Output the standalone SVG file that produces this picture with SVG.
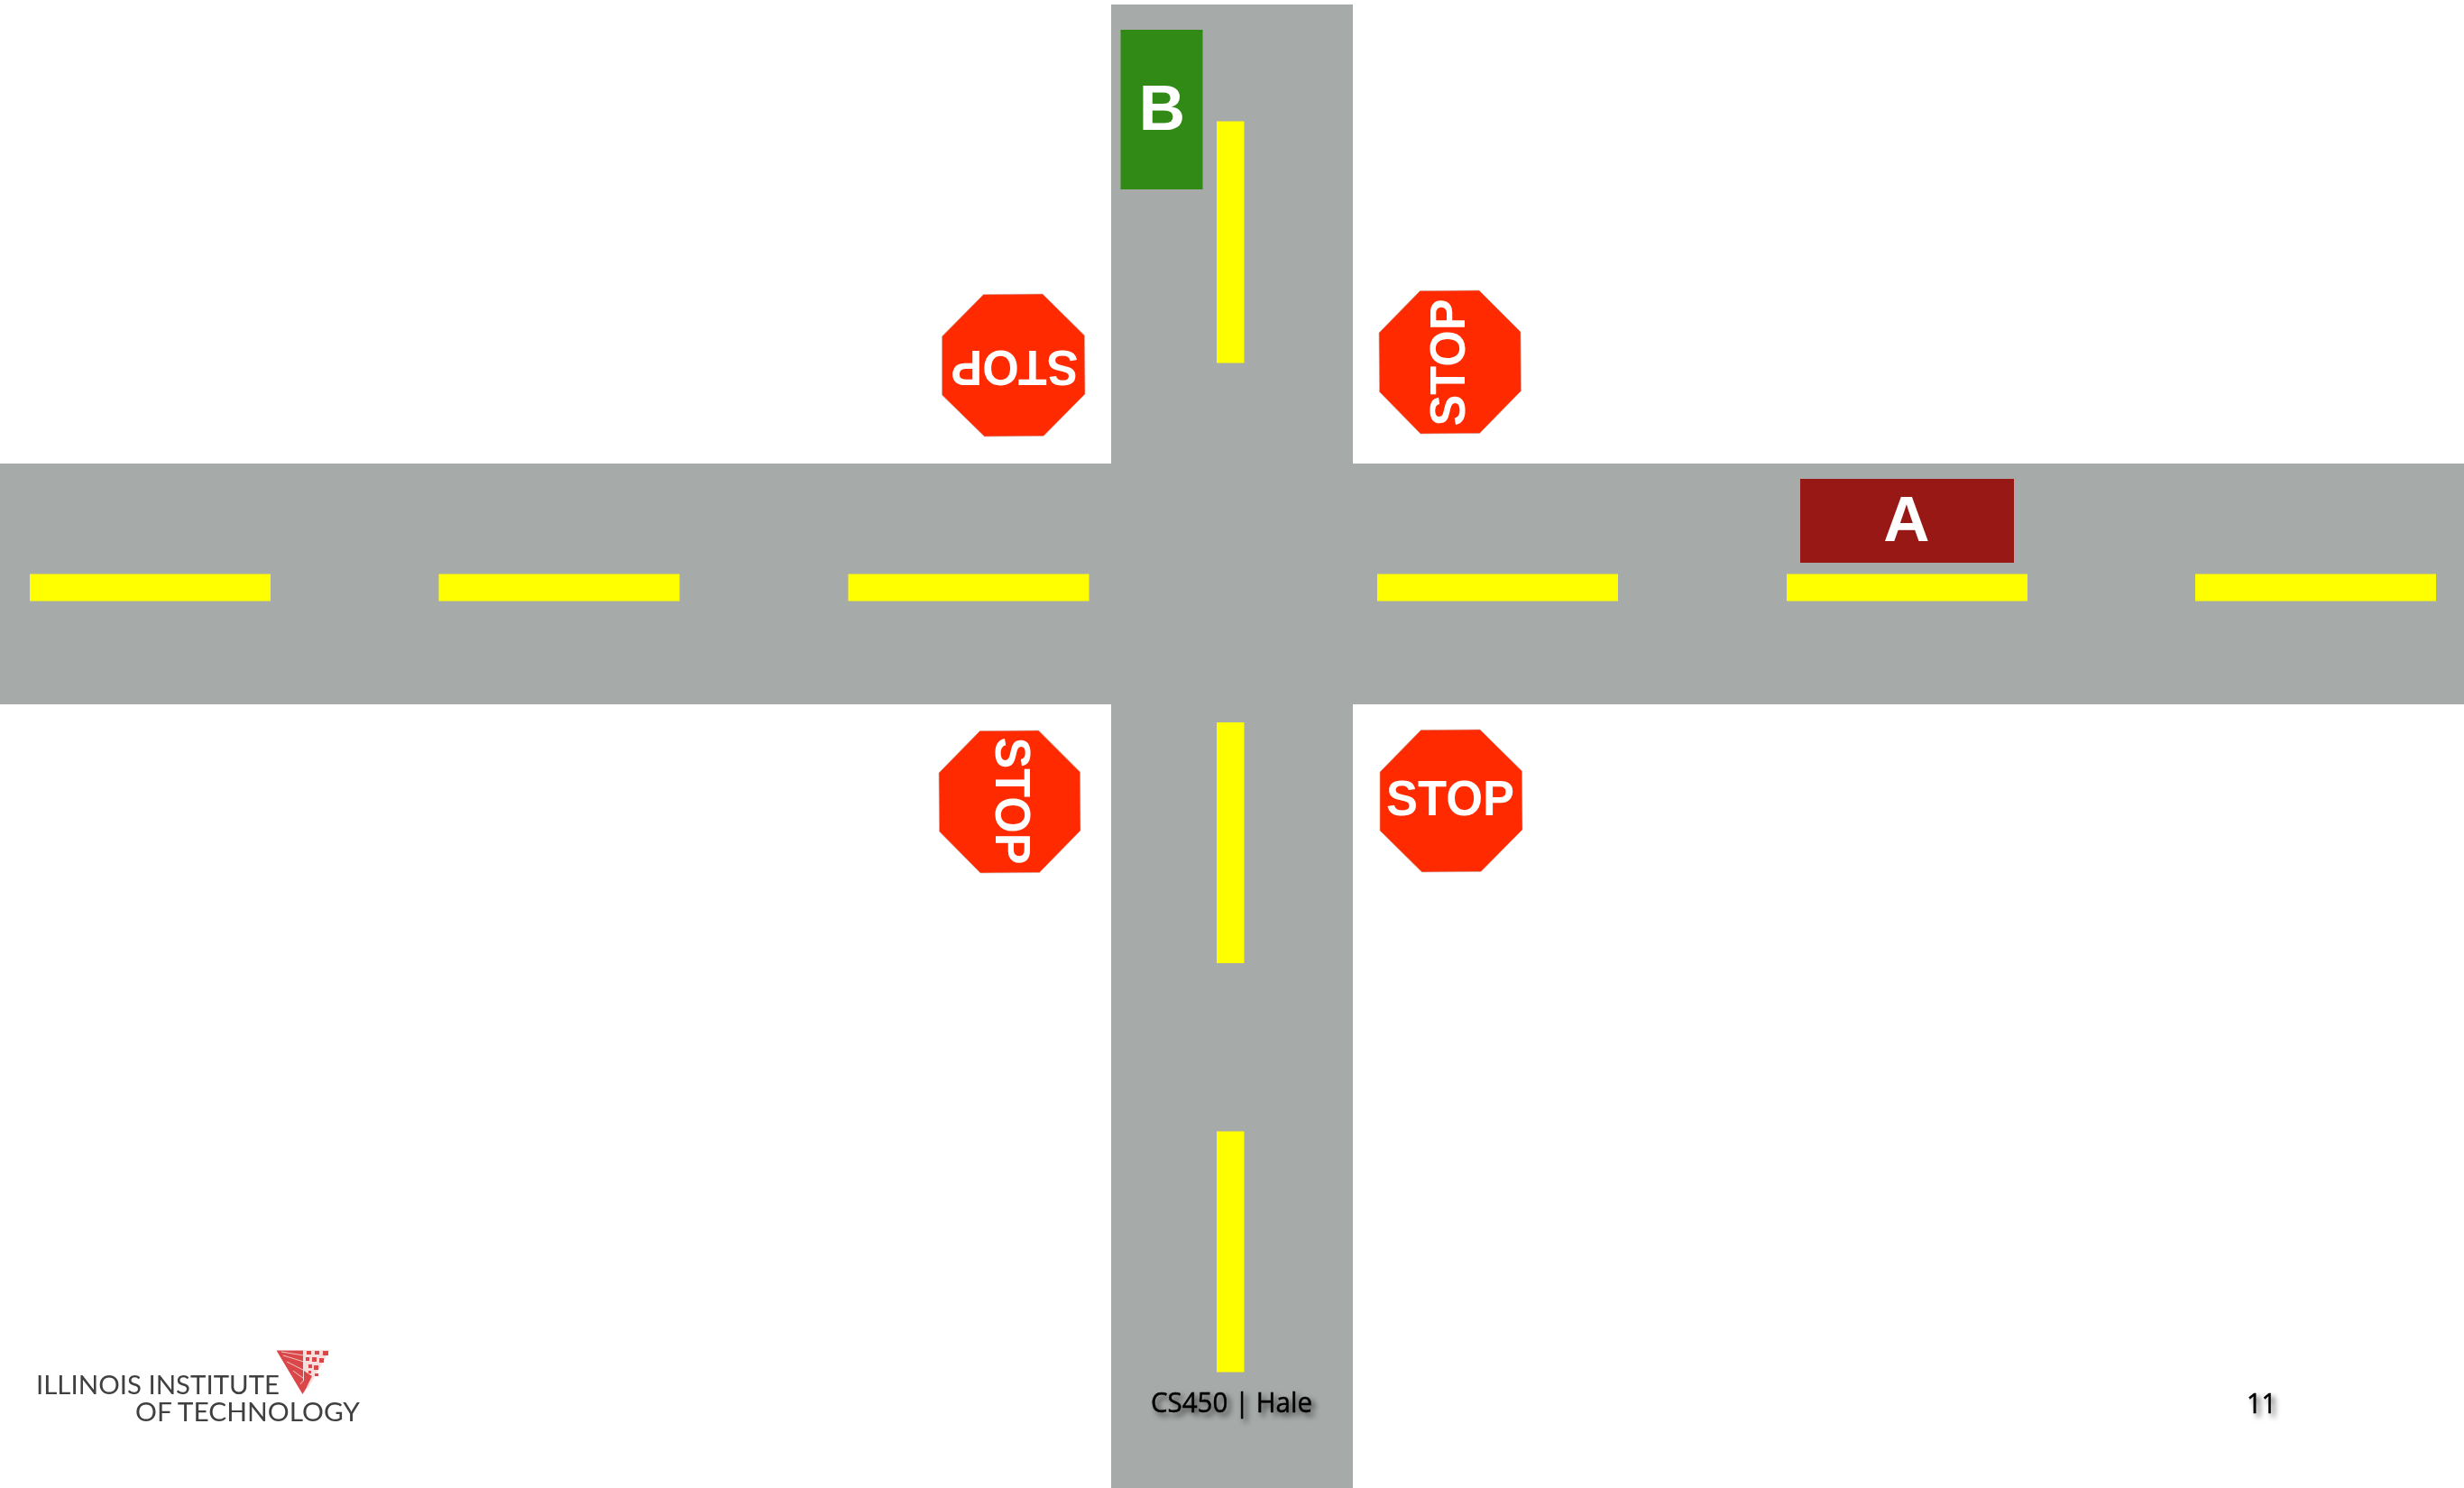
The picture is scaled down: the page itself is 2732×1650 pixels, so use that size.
<svg xmlns="http://www.w3.org/2000/svg" width="2732" height="1650" viewBox="0 0 2732 1650">
<style>
.road{fill:#a6aaa9}
.line{fill:#ffff00}
.sign{fill:#ff2a00;stroke:#c9a9a0;stroke-width:.6}
.stop{font-family:"Liberation Sans",Arial,sans-serif;font-weight:700;font-size:55px;fill:#fff}
.car{font-family:"Liberation Sans",Arial,sans-serif;font-weight:700;font-size:71px;fill:#fff;text-anchor:middle}
.foot{font-family:"Open Sans","Noto Sans",sans-serif;font-size:31px;fill:#000;stroke:#000;stroke-width:.5;filter:url(#shadow)}
.logo{font-family:"Lato","Liberation Sans",sans-serif;font-size:29px;fill:#3f3f3f;filter:url(#soft)}
</style>
<defs>
<filter id="shadow" x="-20%" y="-40%" width="140%" height="190%"><feDropShadow dx="4" dy="4" stdDeviation="3" flood-color="#000" flood-opacity=".65"/></filter>
<filter id="soft" x="-5%" y="-10%" width="110%" height="120%"><feGaussianBlur stdDeviation=".6"/></filter>
</defs>
<rect width="2732" height="1650" fill="#fff"/>
<g id="roads">
<rect class="road" x="0" y="514" width="2732" height="267"/>
<rect class="road" x="1232" y="5" width="268" height="1645"/>
</g>
<g id="road-lines">
<rect class="line" x="33" y="636.500" width="267" height="30"/>
<rect class="line" x="486.500" y="636.500" width="267" height="30"/>
<rect class="line" x="940.500" y="636.500" width="267" height="30"/>
<rect class="line" x="1527" y="636.500" width="267" height="30"/>
<rect class="line" x="1981" y="636.500" width="267" height="30"/>
<rect class="line" x="2434" y="636.500" width="267" height="30"/>
<rect class="line" x="1349" y="134.500" width="30.500" height="268"/>
<rect class="line" x="1349" y="801" width="30.500" height="267"/>
<rect class="line" x="1349" y="1254.500" width="30.500" height="267"/>
</g>
<g id="car-b">
<rect x="1242.500" y="33" width="91" height="177" fill="#318a16"/>
<text class="car" x="1288.500" y="143.500">B</text>
</g>
<g id="car-a">
<rect x="1996" y="531" width="237" height="93" fill="#981815"/>
<text class="car" x="2114" y="599.500">A</text>
</g>
<g id="stop-top-left">
<polygon class="sign" points="1090.500,326.500 1156,326 1202.500,372 1203,437 1157,483.500 1091.500,484 1044.500,438 1044.500,373"/>
<text class="stop" transform="translate(1125 389) rotate(180)" text-anchor="middle" textLength="141" lengthAdjust="spacingAndGlyphs">STOP</text>
</g>
<g id="stop-top-right">
<polygon class="sign" points="1574.500,322.500 1640,322 1686,368 1686.500,433.500 1640.500,480.500 1575,481 1529.500,434.500 1529,369"/>
<text class="stop" transform="translate(1623.500 402) rotate(-90)" text-anchor="middle" textLength="141" lengthAdjust="spacingAndGlyphs">STOP</text>
</g>
<g id="stop-bottom-left">
<polygon class="sign" points="1086.500,810.500 1151.500,810 1197.500,856 1198,921 1152.500,967.500 1087,968 1041.500,922 1041,857"/>
<text class="stop" transform="translate(1103.500 888) rotate(90)" text-anchor="middle" textLength="141" lengthAdjust="spacingAndGlyphs">STOP</text>
</g>
<g id="stop-bottom-right">
<polygon class="sign" points="1575.500,809.500 1641,809 1687.500,855 1688,920 1642,966.500 1576.500,967 1530,921 1530,856"/>
<text class="stop" x="1608" y="903.500" text-anchor="middle" textLength="142" lengthAdjust="spacingAndGlyphs">STOP</text>
</g>
<g id="logo">
<text class="logo" x="40" y="1546" textLength="270" lengthAdjust="spacingAndGlyphs">ILLINOIS INSTITUTE</text>
<text class="logo" x="150" y="1576" textLength="249" lengthAdjust="spacingAndGlyphs">OF TECHNOLOGY</text>
<g filter="url(#soft)">
<polygon points="306.500,1497.500 365,1497.500 335.500,1546" fill="#d9474a"/>
<path d="M312 1499L337 1503M314 1503L340 1511M318 1510L342 1522M325 1520L344 1534M333 1535L345 1520" stroke="#f3c3c3" stroke-width="1" fill="none"/>
<path d="M336 1497H366L352 1521L341 1540L336 1530Z" fill="#f7dede"/>
<g fill="#d9474a">
<rect x="340" y="1498" width="5" height="4"/><rect x="349" y="1498" width="5" height="4"/><rect x="358" y="1498" width="6" height="5"/>
<rect x="339" y="1505" width="4" height="4"/><rect x="346" y="1505" width="5" height="5"/><rect x="354" y="1506" width="5" height="5"/>
<rect x="342" y="1513" width="4" height="4"/><rect x="348" y="1514" width="5" height="5"/>
<rect x="342" y="1520" width="3" height="3"/><rect x="349" y="1523" width="4" height="3"/>
<path d="M337 1520L346 1526L340 1538L337 1540Z"/>
</g>
</g>
</g>
<g id="footer">
<text class="foot" x="1276" y="1566" textLength="179" lengthAdjust="spacingAndGlyphs">CS450 | Hale</text>
<text class="foot" x="2491" y="1566.500" textLength="33" lengthAdjust="spacingAndGlyphs">11</text>
</g>
</svg>
